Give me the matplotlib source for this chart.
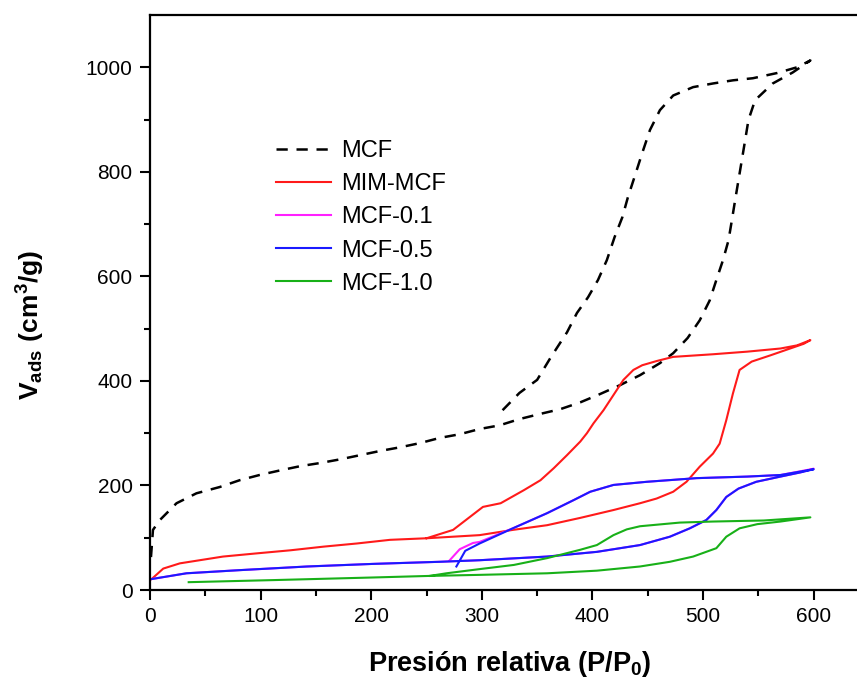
import numpy as np
import matplotlib
matplotlib.use('Agg')
from matplotlib import pyplot as plt

plt.rcParams['font.family'] = ['Liberation Sans', 'DejaVu Sans']
plt.rcParams['mathtext.fontset'] = 'custom'
plt.rcParams['mathtext.rm'] = 'Liberation Sans'
plt.rcParams['mathtext.bf'] = 'Liberation Sans:bold'

# MCF isotherm: adsorption up to the top, then desorption back down
mcf_x = [0.9, 2.7, 9, 24, 42, 63, 81, 99, 118, 136, 154, 172, 190, 208, 226, 244, 262, 280, 298,
         316, 334, 353, 371, 389, 407, 425, 443, 461, 473, 486, 497, 506, 512, 518, 523, 526, 529,
         532, 535, 538, 541, 547, 563, 581, 597,
         585, 567, 545, 527, 509, 491, 473, 461, 452, 445, 438, 432, 427, 420, 413, 405, 396, 386,
         377, 362, 350, 334, 316, 313]
mcf_y = [63, 115, 134, 166, 185, 197, 210, 220, 229, 237, 243, 250, 258, 266, 273, 281, 291, 298, 308,
         315, 327, 337, 346, 359, 375, 392, 411, 434, 453, 482, 516, 554, 593, 631, 669, 707, 746,
         784, 822, 860, 899, 937, 969, 990, 1013,
         1000, 989, 979, 975, 969, 962, 946, 918, 880, 836, 790, 751, 713, 675, 631, 593, 560, 530,
         493, 444, 402, 377, 338, 333]

mim_x = [1.5, 12, 27, 45, 66, 96, 127, 157, 187, 217, 250, 298, 328, 359, 389, 419, 443, 458, 473,
         485, 497, 509, 515, 521, 527, 533, 544, 561, 576, 591, 597,
         585, 570, 540, 509, 473, 458, 445, 437, 428, 419, 410, 401, 395, 389, 377, 365, 353, 338,
         317, 301, 274, 250]
mim_y = [21, 41, 51, 57, 64, 70, 76, 83, 89, 96, 99, 105, 115, 124, 138, 153, 166, 175, 188,
         207, 236, 261, 280, 325, 376, 421, 437, 449, 460, 471, 478,
         468, 462, 456, 451, 446, 438, 430, 421, 402, 373, 344, 319, 300, 284, 258, 233, 210, 191,
         166, 159, 115, 99]

m05_x = [1.5, 33, 81, 142, 202, 262, 298, 359, 404, 443, 470, 488, 503, 512, 521, 532, 548, 570,
         588, 600,
         570, 540, 494, 449, 419, 398, 383, 359, 328, 298, 285, 277]
m05_y = [21, 32, 38, 45, 50, 54, 57, 64, 73, 86, 102, 118, 134, 153, 178, 194, 207, 217,
         225, 231,
         220, 217, 214, 207, 201, 188, 172, 147, 118, 89, 75, 45]

m01_x = [1.5, 33, 81, 142, 202, 262, 298, 359, 404, 443, 470, 488, 503, 512, 521, 532, 548, 570,
         588, 600,
         570, 540, 494, 449, 419, 398, 383, 359, 328, 298, 292, 280, 271]
m01_y = [21, 32, 38, 45, 50, 54, 57, 64, 73, 86, 102, 118, 134, 153, 178, 194, 207, 217,
         225, 232,
         220, 217, 214, 207, 201, 188, 172, 147, 118, 92, 90, 78, 57]

m10_x = [35, 112, 202, 253, 298, 359, 404, 443, 470, 491, 512, 521, 533, 549, 570, 597,
         555, 509, 479, 443, 431, 419, 404, 389, 359, 329, 298, 268, 253]
m10_y = [15, 19, 24, 27, 29, 32, 37, 45, 54, 64, 80, 102, 118, 126, 131, 139,
         133, 131, 129, 122, 116, 105, 86, 77, 61, 48, 40, 32, 27]

labels = ['MCF', 'MIM-MCF', 'MCF-0.1', 'MCF-0.5', 'MCF-1.0']

fig = plt.figure(figsize=(8.57, 6.81), dpi=100)
ax = fig.add_axes([0.175, 0.1336, 0.839, 0.8444])

lw = 1.5
ax.plot(mcf_x, mcf_y, color='black', lw=1.8, ls=(0, (4.5, 3.5)), label=labels[0])
ax.plot(mim_x, mim_y, color='#ff1a1a', lw=lw, label=labels[1])
ax.plot(m01_x, m01_y, color='#ff20ff', lw=lw, label=labels[2])
ax.plot(m05_x, m05_y, color='#1a1aff', lw=lw, label=labels[3])
ax.plot(m10_x, m10_y, color='#18b018', lw=lw, label=labels[4])

ax.set_xlim(0, 650)
ax.set_ylim(0, 1100)
ax.set_xticks(np.arange(0, 601, 100))
ax.set_xticks(np.arange(50, 651, 100), minor=True)
ax.set_yticks(np.arange(0, 1001, 200))
ax.set_yticks(np.arange(100, 1100, 200), minor=True)
ax.tick_params(which='major', direction='out', length=7.5, width=1.5, labelsize=15, pad=5)
ax.tick_params(which='minor', direction='out', length=4, width=1.5)
for s in ['left', 'bottom', 'top', 'right']:
    ax.spines[s].set_linewidth(1.6)

ax.set_xlabel(r'Presión relativa (P/P$_\mathbf{0}$)', fontsize=19.5, fontweight='bold', labelpad=16)
ax.set_ylabel(r'$\mathbf{V_{ads}\ (cm^3/g)}$', fontsize=19)
ax.yaxis.set_label_coords(-0.143, 0.46)

fig.legend(loc='upper left', bbox_to_anchor=(0.322, 0.794), bbox_transform=fig.transFigure,
           frameon=False, fontsize=17, handlelength=2.35, handletextpad=0.42,
           labelspacing=0.47, borderpad=0, borderaxespad=0)

fig.savefig('out.png', dpi=100)
